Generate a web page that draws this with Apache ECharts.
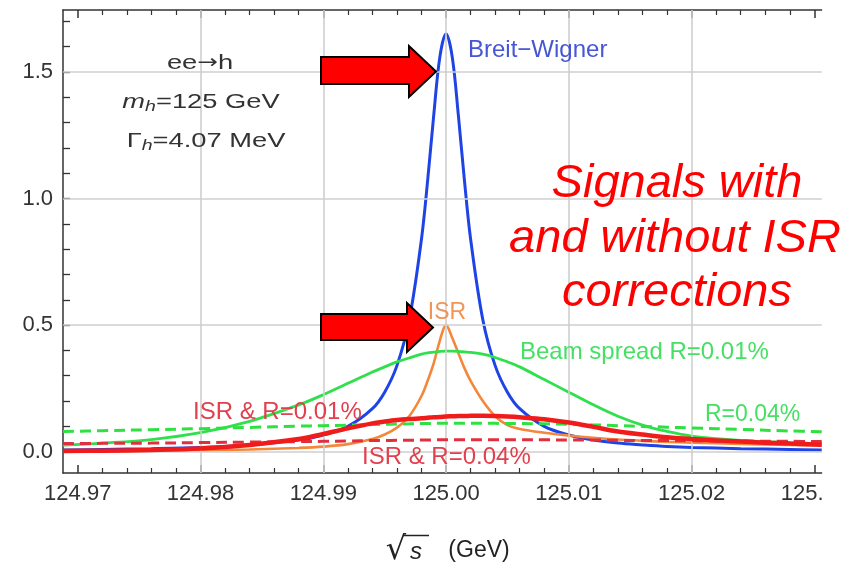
<!DOCTYPE html>
<html>
<head>
<meta charset="utf-8">
<script src="https://cdn.jsdelivr.net/npm/echarts@6/dist/echarts.min.js"></script>
<style>
html,body{margin:0;padding:0;background:#fff;}
#chart{width:851px;height:568px;}
</style>
</head>
<body>
<div id="chart"></div>
<script>
// ---- data ----
const xs = [124.9688, 124.972, 124.976, 124.980, 124.984, 124.988, 124.990, 124.992, 124.994, 124.995,
  124.996, 124.997, 124.998, 124.9985, 124.999, 124.9995, 125.000, 125.0005, 125.001, 125.0015,
  125.002, 125.003, 125.004, 125.005, 125.006, 125.008, 125.010, 125.012, 125.014, 125.016,
  125.018, 125.020, 125.024, 125.028, 125.0306];

const breitWigner = [0.007, 0.009, 0.012, 0.017, 0.027, 0.046, 0.066, 0.10, 0.17, 0.235,
  0.34, 0.52, 0.84, 1.07, 1.33, 1.56, 1.65, 1.56, 1.33, 1.07,
  0.84, 0.52, 0.34, 0.235, 0.17, 0.10, 0.066, 0.046, 0.034, 0.027,
  0.021, 0.017, 0.012, 0.009, 0.007];

const isr = [0.002, 0.003, 0.004, 0.006, 0.009, 0.015, 0.02, 0.03, 0.05, 0.068,
  0.095, 0.14, 0.22, 0.28, 0.35, 0.44, 0.50, 0.45, 0.39, 0.33,
  0.28, 0.20, 0.14, 0.105, 0.09, 0.075, 0.064, 0.055, 0.048, 0.043,
  0.039, 0.036, 0.031, 0.027, 0.025];

const beam001 = [0.026, 0.034, 0.048, 0.075, 0.12, 0.185, 0.225, 0.27, 0.315, 0.335,
  0.355, 0.37, 0.385, 0.39, 0.393, 0.396, 0.397, 0.397, 0.396, 0.394,
  0.392, 0.385, 0.372, 0.355, 0.335, 0.285, 0.235, 0.185, 0.14, 0.105,
  0.08, 0.062, 0.045, 0.036, 0.032];

const beam004 = [0.080, 0.083, 0.087, 0.091, 0.096, 0.101, 0.103, 0.105, 0.107, 0.108,
  0.109, 0.110, 0.111, 0.111, 0.112, 0.112, 0.112, 0.112, 0.112, 0.112,
  0.112, 0.112, 0.112, 0.111, 0.111, 0.110, 0.108, 0.106, 0.103, 0.100,
  0.097, 0.094, 0.088, 0.082, 0.079];

const isrR001 = [0.003, 0.004, 0.007, 0.013, 0.027, 0.05, 0.07, 0.092, 0.112, 0.119,
  0.125, 0.129, 0.132, 0.134, 0.136, 0.137, 0.139, 0.140, 0.141, 0.141,
  0.142, 0.142, 0.141, 0.139, 0.136, 0.128, 0.115, 0.098, 0.08, 0.068,
  0.057, 0.05, 0.04, 0.032, 0.028];

const isrR004 = [0.032, 0.033, 0.034, 0.036, 0.038, 0.040, 0.041, 0.042, 0.044, 0.044,
  0.045, 0.045, 0.046, 0.046, 0.047, 0.047, 0.047, 0.047, 0.047, 0.047,
  0.047, 0.047, 0.047, 0.047, 0.047, 0.047, 0.046, 0.046, 0.045, 0.044,
  0.044, 0.043, 0.042, 0.041, 0.040];

const xTickLabels = [124.97, 124.98, 124.99, 125.00, 125.01, 125.02, 125.03];
const xGridValues = [124.98, 124.99, 125.00, 125.01, 125.02];
const yTickLabels = [0.0, 0.5, 1.0, 1.5];

// ---- helpers ----
const X_MIN = 124.9688, X_MAX = 125.0306, Y_MIN = -0.084, Y_MAX = 1.744;
const xMinor = [];
for (let i = 0; i < xTickLabels.length; i++) {
  for (let k = 1; k < 5; k++) {
    const v = +(xTickLabels[i] + 0.002 * k).toFixed(4);
    if (v < X_MAX) xMinor.push(v);
  }
}
for (let k = 1; k < 5; k++) { const v = +(xTickLabels[0] - 0.002 * k).toFixed(4); if (v > X_MIN) xMinor.push(v); }
const yAllTicks = [];
for (let k = 0; k <= 17; k++) yAllTicks.push(+(k * 0.1).toFixed(1));

const pair = ys => xs.map((x, i) => [x, ys[i]]);
const FONT = "'Liberation Sans', Arial, sans-serif";
const AX = '#333';

function xAxisDef(opts) {
  return Object.assign({
    type: 'value', min: X_MIN, max: X_MAX, position: 'bottom',
    axisLine: { show: false, onZero: false, lineStyle: { color: AX, width: 1.5 } },
    axisTick: { show: false },
    axisLabel: { show: false },
    splitLine: { show: false },
    splitArea: { show: false }
  }, opts);
}

const chart = echarts.init(document.getElementById('chart'), null, { renderer: 'canvas' });

const lineSeries = (name, ys, color, width, dashed, z) => ({
  name, type: 'line', data: pair(ys), xAxisIndex: 0, yAxisIndex: 0,
  showSymbol: false, symbol: 'none', smooth: 0.35, z: z,
  lineStyle: { color, width, type: dashed ? [11, 6] : 'solid', cap: 'butt' },
  emphasis: { disabled: true }
});

const gridLineData = xGridValues.map(v => ({ xAxis: v })).concat(yTickLabels.map(v => ({ yAxis: v })));

const option = {
  animation: false,
  backgroundColor: '#fff',
  grid: { show: false, left: 63, right: 29, top: 10, bottom: 95, containLabel: false, borderWidth: 0 },
  xAxis: [
    xAxisDef({
      axisLine: { show: true, onZero: false, lineStyle: { color: AX, width: 1.5 } },
      axisTick: { show: true, inside: true, length: 8, customValues: xTickLabels, lineStyle: { color: AX, width: 1.5 } },
      axisLabel: { show: true, customValues: xTickLabels, margin: 10, color: '#333', fontSize: 22, fontFamily: FONT,
        formatter: v => v.toFixed(2) }
    }),
    xAxisDef({
      axisTick: { show: true, inside: true, length: 5, customValues: xMinor, lineStyle: { color: AX, width: 1.2 } }
    }),
    xAxisDef({
      position: 'top',
      axisLine: { show: true, onZero: false, lineStyle: { color: AX, width: 1.5 } },
      axisTick: { show: true, inside: true, length: 8, customValues: xTickLabels, lineStyle: { color: AX, width: 1.5 } }
    }),
    xAxisDef({
      position: 'top',
      axisTick: { show: true, inside: true, length: 5, customValues: xMinor, lineStyle: { color: AX, width: 1.2 } }
    })
  ],
  yAxis: [{
    type: 'value', min: Y_MIN, max: Y_MAX, position: 'left',
    axisLine: { show: true, onZero: false, lineStyle: { color: AX, width: 1.5 } },
    axisTick: { show: true, inside: true, length: 7, customValues: yAllTicks, lineStyle: { color: AX, width: 1.3 } },
    axisLabel: { show: true, customValues: yTickLabels, margin: 10, color: '#333', fontSize: 22, fontFamily: FONT,
      formatter: v => v.toFixed(1) },
    splitLine: { show: false },
    splitArea: { show: false }
  }],
  series: [
    {
      name: 'grid', type: 'line', data: [[X_MIN, Y_MIN], [X_MIN, Y_MIN]], z: 1, silent: true,
      showSymbol: false, symbol: 'none', lineStyle: { opacity: 0 },
      markLine: {
        silent: true, symbol: ['none', 'none'], label: { show: false }, animation: false,
        lineStyle: { color: '#cfcfcf', width: 1.6, type: 'solid' },
        emphasis: { disabled: true },
        data: gridLineData
      }
    },
    lineSeries('Breit-Wigner', breitWigner, '#1f44e6', 3, false, 2),
    lineSeries('ISR', isr, '#f5873a', 2.6, false, 3),
    lineSeries('Beam spread R=0.01%', beam001, '#2fe04c', 2.8, false, 4),
    lineSeries('R=0.04%', beam004, '#2ee040', 3, true, 5),
    lineSeries('ISR & R=0.04%', isrR004, '#e03040', 3, true, 6),
    lineSeries('ISR & R=0.01%', isrR001, '#f01c1c', 4.5, false, 7)
  ],
  graphic: [
    // the original figure is cropped at its right edge
    { type: 'rect', z: 50, silent: true, shape: { x: 822.5, y: 0, width: 30, height: 513 }, style: { fill: '#ffffff', stroke: null, lineWidth: 0 } },
    // axis title
    { type: 'text', z: 60, x: 396, y: 551, style: { text: '√', font: "32px 'DejaVu Sans', sans-serif", fill: '#222', align: 'center', verticalAlign: 'middle' } },
    { type: 'text', z: 60, x: 416, y: 552, style: { text: 's', font: "italic 24px 'Liberation Sans', Arial, sans-serif", fill: '#222', align: 'center', verticalAlign: 'middle' } },
    { type: 'line', z: 60, shape: { x1: 403, y1: 535.5, x2: 429, y2: 535.5 }, style: { stroke: '#222', lineWidth: 1.5 } },
    { type: 'text', z: 60, x: 479, y: 551, style: { text: '(GeV)', font: "23px 'Liberation Sans', Arial, sans-serif", fill: '#222', align: 'center', verticalAlign: 'middle' } },
    // physics annotations
    { type: 'text', z: 60, x: 200, y: 63, scaleX: 1.3,
      style: { text: 'ee{a|→}h', font: "21px 'Liberation Sans', Arial, sans-serif", fill: '#333', align: 'center', verticalAlign: 'middle',
        rich: { a: { fontSize: 19, fontFamily: "'DejaVu Sans', sans-serif", fill: '#333' } } } },
    { type: 'text', z: 60, x: 201, y: 102, scaleX: 1.3,
      style: { text: '{i|m}{sub|h}=125 GeV', font: "21px 'Liberation Sans', Arial, sans-serif", fill: '#333', align: 'center', verticalAlign: 'middle',
        rich: { i: { fontStyle: 'italic', fontSize: 21, fontFamily: FONT, fill: '#333' }, sub: { fontStyle: 'italic', fontSize: 15, fontFamily: FONT, fill: '#333', padding: [10, 0, 0, 0] } } } },
    { type: 'text', z: 60, x: 206, y: 141, scaleX: 1.3,
      style: { text: 'Γ{sub|h}=4.07 MeV', font: "21px 'Liberation Sans', Arial, sans-serif", fill: '#333', align: 'center', verticalAlign: 'middle',
        rich: { sub: { fontStyle: 'italic', fontSize: 15, fontFamily: FONT, fill: '#333', padding: [10, 0, 0, 0] } } } },
    // curve labels
    { type: 'text', z: 60, x: 468, y: 50, style: { text: 'Breit−Wigner', font: "24px 'Liberation Sans', Arial, sans-serif", fill: '#4656d4', align: 'left', verticalAlign: 'middle' } },
    { type: 'text', z: 60, x: 447, y: 313, style: { text: 'ISR', font: "23px 'Liberation Sans', Arial, sans-serif", fill: '#f29452', align: 'center', verticalAlign: 'middle' } },
    { type: 'text', z: 60, x: 520, y: 352, style: { text: 'Beam spread R=0.01%', font: "24px 'Liberation Sans', Arial, sans-serif", fill: '#46e064', align: 'left', verticalAlign: 'middle' } },
    { type: 'text', z: 60, x: 705, y: 415, style: { text: 'R=0.04%', font: "23px 'Liberation Sans', Arial, sans-serif", fill: '#46e064', align: 'left', verticalAlign: 'middle' } },
    { type: 'text', z: 60, x: 193, y: 412, style: { text: 'ISR & R=0.01%', font: "24px 'Liberation Sans', Arial, sans-serif", fill: '#e2404e', align: 'left', verticalAlign: 'middle' } },
    { type: 'text', z: 60, x: 362, y: 457, style: { text: 'ISR & R=0.04%', font: "24px 'Liberation Sans', Arial, sans-serif", fill: '#e2404e', align: 'left', verticalAlign: 'middle' } },
    // slide text
    { type: 'text', z: 70, x: 677, y: 184, style: { text: 'Signals with', font: "italic 47px 'Liberation Sans', Arial, sans-serif", fill: '#ff0000', align: 'center', verticalAlign: 'middle' } },
    { type: 'text', z: 70, x: 675, y: 239, style: { text: 'and without ISR', font: "italic 47px 'Liberation Sans', Arial, sans-serif", fill: '#ff0000', align: 'center', verticalAlign: 'middle' } },
    { type: 'text', z: 70, x: 677, y: 293, style: { text: 'corrections', font: "italic 47px 'Liberation Sans', Arial, sans-serif", fill: '#ff0000', align: 'center', verticalAlign: 'middle' } },
    // arrows
    { type: 'polygon', z: 80, shape: { points: [[321, 57], [409, 57], [409, 46], [436, 71.5], [409, 97], [409, 84], [321, 84]] },
      style: { fill: '#ff0000', stroke: '#000', lineWidth: 2 } },
    { type: 'polygon', z: 80, shape: { points: [[321, 314], [407, 314], [407, 303], [433, 327.5], [407, 352], [407, 340], [321, 340]] },
      style: { fill: '#ff0000', stroke: '#000', lineWidth: 2 } }
  ]
};
chart.setOption(option);
</script>
</body>
</html>
